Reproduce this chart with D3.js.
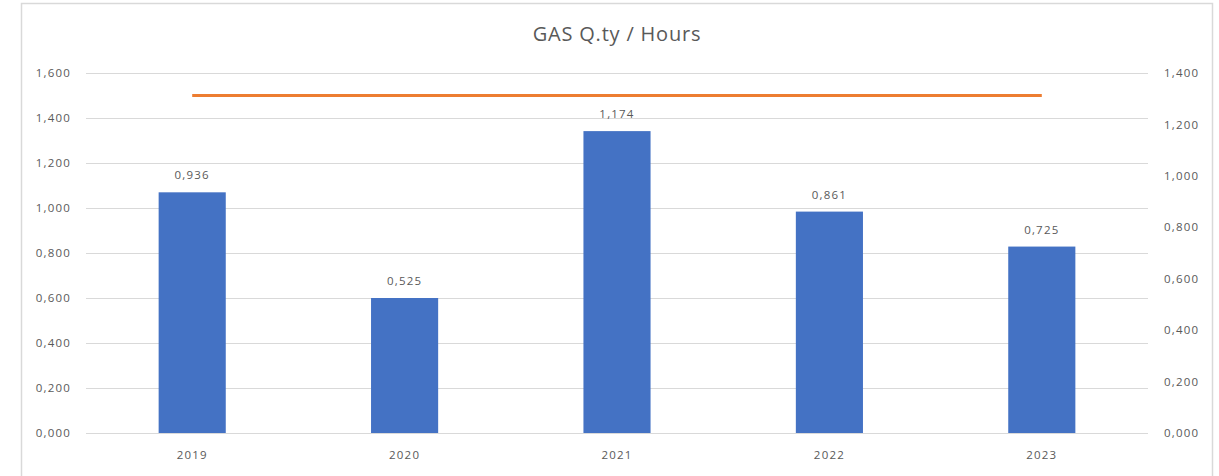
<!DOCTYPE html>
<html><head><meta charset="utf-8">
<script src="https://cdn.jsdelivr.net/npm/d3@7"></script>
<style>
body{margin:0;background:#fff;}
text{font-family:"Open Sans",sans-serif;fill:#595959;}
</style></head>
<body><svg id="c" width="1219" height="476"></svg>
<script>
const categories = ["2019","2020","2021","2022","2023"];
const gasValues = [0.936, 0.525, 1.174, 0.861, 0.725];
const targetValue = 1.5;
const leftTicks = [0,0.2,0.4,0.6,0.8,1.0,1.2,1.4,1.6];
const rightTicks = [0,0.2,0.4,0.6,0.8,1.0,1.2,1.4];
const title = "GAS Q.ty / Hours";

const loc = d3.formatLocale({decimal:",", thousands:".", grouping:[3], currency:["",""]});
const fmt = loc.format(".3f");

const svg = d3.select("#c");
svg.append("rect").attr("x",21.5).attr("y",3.5).attr("width",1191).attr("height",480)
  .attr("fill","#fff").attr("stroke","#d9d9d9").attr("stroke-width",1.5);

const L=86, R=1148, T=73, B=433;
const x = d3.scaleBand().domain(categories).range([L,R]).padding(0);
const yL = d3.scaleLinear().domain([0,1.6]).range([B,T]);
const yR = d3.scaleLinear().domain([0,1.4]).range([B,T]);

// grid
svg.append("g").selectAll("line").data(leftTicks).join("line")
  .attr("x1",L).attr("x2",R).attr("y1",d=>Math.round(yL(d))+0.5).attr("y2",d=>Math.round(yL(d))+0.5)
  .attr("stroke","#d9d9d9").attr("stroke-width",1);

// left axis
const gl = svg.append("g").attr("transform",`translate(${L-15},0)`)
  .call(d3.axisLeft(yL).tickValues(leftTicks).tickFormat(fmt).tickSize(0).tickPadding(0));
gl.select(".domain").remove();
gl.selectAll("text").style("font-size","11.5px").style("letter-spacing","1.2px").attr("fill","#595959");

// right axis
const gr = svg.append("g").attr("transform",`translate(${R+16},0)`)
  .call(d3.axisRight(yR).tickValues(rightTicks).tickFormat(fmt).tickSize(0).tickPadding(0));
gr.select(".domain").remove();
gr.selectAll("text").style("font-size","11.5px").style("letter-spacing","1.2px").attr("fill","#595959");

// x axis
const gx = svg.append("g").attr("transform",`translate(0,${B+18})`)
  .call(d3.axisBottom(x).tickSize(0).tickPadding(0));
gx.select(".domain").remove();
gx.selectAll("text").style("font-size","11.5px").style("letter-spacing","1.2px").attr("fill","#595959");

// bars
const bw = x.bandwidth()*0.316;
svg.append("g").selectAll("rect").data(categories).join("rect")
  .attr("x",(d)=>x(d)+x.bandwidth()/2-bw/2)
  .attr("y",(d,i)=>yR(gasValues[i]))
  .attr("width",bw)
  .attr("height",(d,i)=>B-yR(gasValues[i]))
  .attr("fill","#4472C4");

// labels
svg.append("g").selectAll("text").data(categories).join("text")
  .attr("x",d=>x(d)+x.bandwidth()/2)
  .attr("y",(d,i)=>yR(gasValues[i])-13)
  .attr("text-anchor","middle").style("font-size","11.5px").style("letter-spacing","1.2px")
  .text((d,i)=>fmt(gasValues[i]));

// target line
svg.append("path")
  .datum(categories)
  .attr("d", d3.line().x(d=>x(d)+x.bandwidth()/2).y(()=>yL(targetValue)))
  .attr("stroke","#ED7D31").attr("stroke-width",3).attr("fill","none");

// title
svg.append("text").attr("x",617).attr("y",41).attr("text-anchor","middle")
  .style("font-size","20px").style("letter-spacing","0.8px").text(title);
</script></body></html>
